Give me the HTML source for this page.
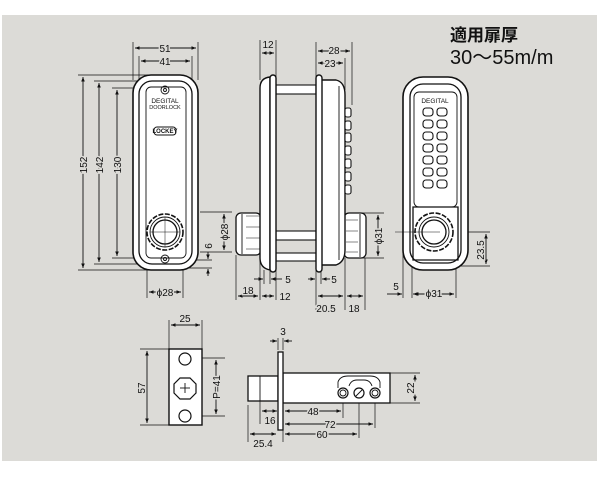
<!DOCTYPE html>
<html><head><meta charset="utf-8"><style>
html,body{margin:0;padding:0;background:#fff;}
svg{display:block;}
text{font-family:"Liberation Sans","Noto Sans CJK JP",sans-serif;fill:#111;}
</style></head><body>
<svg width="600" height="480" viewBox="0 0 600 480" xmlns="http://www.w3.org/2000/svg">
<defs>
<marker id="a" viewBox="0 0 10 10" refX="10" refY="5" markerWidth="5" markerHeight="5" orient="auto-start-reverse"><path d="M0,1 L10,5 L0,9 z" fill="#111"/></marker>
</defs>
<rect x="2" y="15" width="595" height="446" fill="#dcdbd7"/>
<g stroke="#111" fill="none" stroke-width="0.9">
<g stroke-width="0.7">
<line x1="133" y1="42" x2="133" y2="80"/><line x1="198" y1="42" x2="198" y2="80"/>
<line x1="139" y1="56" x2="139" y2="82"/><line x1="192" y1="56" x2="192" y2="82"/>
<line x1="78" y1="75" x2="150" y2="75"/><line x1="78" y1="270" x2="150" y2="270"/>
<line x1="94" y1="81" x2="145" y2="81"/><line x1="94" y1="264" x2="145" y2="264"/>
<line x1="112" y1="88" x2="150" y2="88"/><line x1="112" y1="258" x2="150" y2="258"/>
<line x1="147" y1="258" x2="147" y2="298"/><line x1="183" y1="258" x2="183" y2="298"/>
<line x1="185" y1="260" x2="212" y2="260"/><line x1="185" y1="268" x2="212" y2="268"/>
<line x1="200" y1="212" x2="232" y2="212"/><line x1="200" y1="252" x2="232" y2="252"/>
</g>
<line x1="135" y1="48" x2="196" y2="48" marker-start="url(#a)" marker-end="url(#a)"/>
<line x1="141" y1="61" x2="190" y2="61" marker-start="url(#a)" marker-end="url(#a)"/>
<line x1="83" y1="77" x2="83" y2="268" marker-start="url(#a)" marker-end="url(#a)"/>
<line x1="99" y1="83" x2="99" y2="262" marker-start="url(#a)" marker-end="url(#a)"/>
<line x1="117" y1="90" x2="117" y2="256" marker-start="url(#a)" marker-end="url(#a)"/>
<line x1="149" y1="292" x2="181" y2="292" marker-start="url(#a)" marker-end="url(#a)"/>
<line x1="224" y1="214" x2="224" y2="250" marker-start="url(#a)" marker-end="url(#a)"/>
<line x1="208" y1="252" x2="208" y2="259" marker-end="url(#a)"/>
<line x1="208" y1="276" x2="208" y2="269" marker-end="url(#a)"/>
<rect x="133" y="75" width="65" height="195" rx="18" fill="#fff" stroke-width="1.6"/>
<rect x="139" y="81" width="53" height="183" rx="13" stroke-width="1.3"/>
<rect x="146" y="87" width="40" height="171" rx="5"/>
<circle cx="165" cy="90" r="4"/><circle cx="165" cy="90" r="1.5"/>
<circle cx="165" cy="259" r="4"/><circle cx="165" cy="259" r="1.5"/>
<circle cx="165" cy="232" r="18" stroke-width="1.6" stroke-dasharray="5 1.5"/>
<circle cx="165" cy="232" r="15"/>
<circle cx="165" cy="232" r="12" stroke-width="1.3"/>
<line x1="150" y1="232" x2="180" y2="232" stroke-width="0.5"/><line x1="165" y1="217" x2="165" y2="247" stroke-width="0.5"/>
<rect x="154" y="127" width="22" height="8" rx="3"/>
<g stroke-width="0.7">
<line x1="260" y1="40" x2="260" y2="80"/><line x1="276" y1="40" x2="276" y2="80"/>
<line x1="316" y1="42" x2="316" y2="80"/><line x1="352" y1="42" x2="352" y2="105"/>
<line x1="345" y1="58" x2="345" y2="90"/>
<line x1="236" y1="255" x2="236" y2="300"/><line x1="260" y1="260" x2="260" y2="300"/><line x1="276" y1="270" x2="276" y2="300"/>
<line x1="264" y1="270" x2="264" y2="284"/><line x1="270" y1="270" x2="270" y2="284"/>
<line x1="316" y1="270" x2="316" y2="310"/><line x1="321" y1="270" x2="321" y2="284"/>
<line x1="345" y1="258" x2="345" y2="310"/><line x1="365" y1="258" x2="365" y2="310"/>
<line x1="362" y1="213" x2="384" y2="213"/><line x1="362" y1="258" x2="384" y2="258"/>
</g>
<line x1="262" y1="53" x2="274" y2="53" marker-start="url(#a)" marker-end="url(#a)"/>
<line x1="318" y1="51" x2="350" y2="51" marker-start="url(#a)" marker-end="url(#a)"/>
<line x1="318" y1="63" x2="343" y2="63" marker-start="url(#a)" marker-end="url(#a)"/>
<line x1="254" y1="279" x2="263" y2="279" marker-end="url(#a)"/><line x1="282" y1="279" x2="271" y2="279" marker-end="url(#a)"/>
<line x1="308" y1="279" x2="315" y2="279" marker-end="url(#a)"/><line x1="330" y1="279" x2="322" y2="279" marker-end="url(#a)"/>
<line x1="238" y1="296" x2="258" y2="296" marker-start="url(#a)" marker-end="url(#a)"/>
<line x1="262" y1="296" x2="274" y2="296" marker-start="url(#a)" marker-end="url(#a)"/>
<line x1="318" y1="296" x2="343" y2="296" marker-start="url(#a)" marker-end="url(#a)"/>
<line x1="347" y1="296" x2="363" y2="296" marker-start="url(#a)" marker-end="url(#a)"/>
<line x1="378" y1="215" x2="378" y2="256" marker-start="url(#a)" marker-end="url(#a)"/>
<rect x="236" y="213" width="25" height="42" rx="5" fill="#fff" stroke-width="1.3"/>
<line x1="242" y1="214" x2="242" y2="254"/>
<path d="M246,216 h14 M246,227 h14 M246,238 h14 M246,249 h14" stroke-width="0.6"/>
<rect x="344" y="213" width="22" height="45" rx="5" fill="#fff" stroke-width="1.3"/>
<line x1="360" y1="214" x2="360" y2="257"/>
<path d="M346,220 h12 M346,231 h12 M346,242 h12 M346,252 h12" stroke-width="0.6"/>
<rect x="276" y="85" width="40" height="9" fill="#fff" stroke-width="1.1"/>
<rect x="276" y="231" width="40" height="9" fill="#fff" stroke-width="1.1"/>
<rect x="276" y="253" width="40" height="8" fill="#fff" stroke-width="1.1"/>
<path d="M260,88 Q260,78 270,77 L270,270 Q260,268 260,258 Z" fill="#fff" stroke-width="1.4"/>
<rect x="270" y="75" width="6" height="197" rx="3" fill="#fff" stroke-width="1.4"/>
<path d="M321,80 L336,80 Q345,82 345,95 L345,250 Q345,262 336,265 L321,265 Z" fill="#fff" stroke-width="1.4"/>
<line x1="339" y1="86" x2="339" y2="260"/>
<rect x="316" y="75" width="6" height="197" rx="3" fill="#fff" stroke-width="1.4"/>
<g fill="#fff" stroke-width="1.1">
<rect x="345" y="108" width="6" height="9" rx="2"/><rect x="345" y="121" width="6" height="9" rx="2"/>
<rect x="345" y="133" width="6" height="9" rx="2"/><rect x="345" y="146" width="6" height="9" rx="2"/>
<rect x="345" y="159" width="6" height="9" rx="2"/><rect x="345" y="172" width="6" height="9" rx="2"/>
<rect x="345" y="185" width="6" height="9" rx="2"/>
</g>
<g stroke-width="0.7">
<line x1="403" y1="250" x2="403" y2="298"/><line x1="412" y1="255" x2="412" y2="298"/><line x1="456" y1="240" x2="456" y2="298"/>
<line x1="440" y1="232" x2="490" y2="232"/><line x1="455" y1="266" x2="490" y2="266"/>
</g>
<line x1="387" y1="294" x2="402" y2="294" marker-end="url(#a)"/><line x1="420" y1="294" x2="413" y2="294" marker-end="url(#a)"/>
<line x1="414" y1="294" x2="454" y2="294" marker-start="url(#a)" marker-end="url(#a)"/>
<line x1="486" y1="234" x2="486" y2="264" marker-start="url(#a)" marker-end="url(#a)"/>
<rect x="403" y="77" width="65" height="193" rx="20" fill="#fff" stroke-width="1.6"/>
<rect x="410" y="84" width="51" height="179" rx="13" stroke-width="1.3"/>
<rect x="414" y="92" width="43" height="115" rx="5"/>
<path d="M413,207 L413,260 L458,260 L458,207 Z" stroke-width="1.3"/>
<g stroke-width="1.1">
<rect x="423" y="108" width="10" height="8" rx="3"/><rect x="437" y="108" width="10" height="8" rx="3"/>
<rect x="423" y="120" width="10" height="8" rx="3"/><rect x="437" y="120" width="10" height="8" rx="3"/>
<rect x="423" y="132" width="10" height="8" rx="3"/><rect x="437" y="132" width="10" height="8" rx="3"/>
<rect x="423" y="144" width="10" height="8" rx="3"/><rect x="437" y="144" width="10" height="8" rx="3"/>
<rect x="423" y="156" width="10" height="8" rx="3"/><rect x="437" y="156" width="10" height="8" rx="3"/>
<rect x="423" y="168" width="10" height="8" rx="3"/><rect x="437" y="168" width="10" height="8" rx="3"/>
<rect x="423" y="180" width="10" height="8" rx="3"/><rect x="437" y="180" width="10" height="8" rx="3"/>
</g>
<circle cx="434" cy="232" r="19" stroke-width="1.6" stroke-dasharray="5 1.5"/>
<circle cx="434" cy="232" r="15"/>
<circle cx="434" cy="232" r="12" stroke-width="1.3"/>
<line x1="395" y1="232" x2="440" y2="232" stroke-width="0.5"/>
<g stroke-width="0.7">
<line x1="169" y1="320" x2="169" y2="349"/><line x1="202" y1="320" x2="202" y2="349"/>
<line x1="140" y1="349" x2="169" y2="349"/><line x1="140" y1="425" x2="169" y2="425"/>
<line x1="185" y1="358" x2="225" y2="358"/><line x1="185" y1="416" x2="225" y2="416"/>
</g>
<line x1="171" y1="325" x2="200" y2="325" marker-start="url(#a)" marker-end="url(#a)"/>
<line x1="147" y1="351" x2="147" y2="423" marker-start="url(#a)" marker-end="url(#a)"/>
<line x1="216" y1="360" x2="216" y2="414" marker-start="url(#a)" marker-end="url(#a)"/>
<rect x="169" y="349" width="33" height="76" fill="#fff" stroke-width="1.4"/>
<circle cx="185" cy="359" r="6" stroke-width="1.2"/><circle cx="185" cy="416" r="6" stroke-width="1.2"/>
<path d="M180,378 L190,378 L196,384 L196,393 L190,399 L180,399 L174,393 L174,384 Z" stroke-width="1.2"/>
<line x1="180" y1="388" x2="190" y2="388"/><line x1="185" y1="383" x2="185" y2="393"/>
<g stroke-width="0.7">
<line x1="278" y1="338" x2="278" y2="350"/><line x1="283" y1="338" x2="283" y2="350"/>
<line x1="390" y1="373" x2="420" y2="373"/><line x1="390" y1="403" x2="420" y2="403"/>
<line x1="260" y1="400" x2="260" y2="424"/>
<line x1="343" y1="395" x2="343" y2="418"/><line x1="375" y1="395" x2="375" y2="428"/>
<line x1="359" y1="395" x2="359" y2="438"/>
<line x1="248" y1="405" x2="248" y2="442"/><line x1="283" y1="430" x2="283" y2="442"/>
</g>
<line x1="270" y1="341" x2="277" y2="341" marker-end="url(#a)"/><line x1="292" y1="341" x2="284" y2="341" marker-end="url(#a)"/>
<line x1="415" y1="375" x2="415" y2="401" marker-start="url(#a)" marker-end="url(#a)"/>
<line x1="262" y1="411" x2="277" y2="411" marker-start="url(#a)" marker-end="url(#a)"/>
<line x1="285" y1="411" x2="341" y2="411" marker-start="url(#a)" marker-end="url(#a)"/>
<line x1="285" y1="424" x2="373" y2="424" marker-start="url(#a)" marker-end="url(#a)"/>
<line x1="285" y1="434" x2="357" y2="434" marker-start="url(#a)" marker-end="url(#a)"/>
<line x1="250" y1="434" x2="276" y2="434" marker-start="url(#a)" marker-end="url(#a)"/>
<rect x="248" y="376" width="30" height="25" fill="#fff" stroke-width="1.3"/>
<line x1="260" y1="376" x2="260" y2="401"/>
<rect x="283" y="373" width="107" height="30" fill="#fff" stroke-width="1.3"/>
<rect x="278" y="352" width="5" height="78" fill="#fff" stroke-width="1.3"/>
<path d="M338,388 L338,382 Q340,376 348,376 L370,376 Q378,376 380,382 L380,388" />
<path d="M349,386 Q351,380 357,380 L364,380 Q370,380 372,386"/>
<circle cx="343" cy="393" r="5" stroke-width="1.2"/><circle cx="343" cy="393" r="3"/>
<circle cx="359" cy="393" r="5" stroke-width="1.2"/><line x1="356" y1="396" x2="362" y2="390"/>
<circle cx="375" cy="393" r="5" stroke-width="1.2"/><circle cx="375" cy="393" r="3"/>
</g>
<g font-size="10" text-anchor="middle" stroke="#dcdbd7" stroke-width="3" style="paint-order:stroke">
<text x="165" y="52">51</text>
<text x="165" y="65">41</text>
<text x="165" y="296">ϕ28</text>
<text transform="translate(87,165) rotate(-90)">152</text>
<text transform="translate(103,165) rotate(-90)">142</text>
<text transform="translate(121,165) rotate(-90)">130</text>
<text transform="translate(212,246) rotate(-90)">6</text>
<text transform="translate(228,232) rotate(-90)">ϕ28</text>
<text transform="translate(382,236) rotate(-90)">ϕ31</text>
<text x="268" y="48">12</text>
<text x="334" y="54">28</text>
<text x="330" y="67">23</text>
<text x="288" y="283">5</text><text x="334" y="283">5</text>
<text x="248" y="294">18</text><text x="285" y="300">12</text>
<text x="326" y="312">20.5</text><text x="354" y="312">18</text>
<text x="396" y="290">5</text>
<text x="434" y="297">ϕ31</text>
<text transform="translate(484,250) rotate(-90)">23.5</text>
<text x="185" y="322">25</text>
<text transform="translate(145,388) rotate(-90)">57</text>
<text transform="translate(220,387) rotate(-90)">P=41</text>
<text x="283" y="335">3</text>
<text transform="translate(414,388) rotate(-90)">22</text>
<text x="313" y="415">48</text>
<text x="270" y="424">16</text>
<text x="330" y="428">72</text>
<text x="322" y="438">60</text>
<text x="263" y="447">25.4</text>
</g>
<g text-anchor="middle">
<text x="165" y="103" font-size="6.5">DEGITAL</text>
<text x="165" y="109" font-size="5.5">DOORLOCK</text>
<text x="165" y="133" font-size="6" font-weight="bold">LOCKEY</text>
<text x="435" y="103" font-size="6.5">DEGITAL</text>
</g>
<text x="450" y="41" font-size="17" font-weight="bold">適用扉厚</text>
<text x="450" y="64" font-size="20">30～55m/m</text>
</svg>
</body></html>
